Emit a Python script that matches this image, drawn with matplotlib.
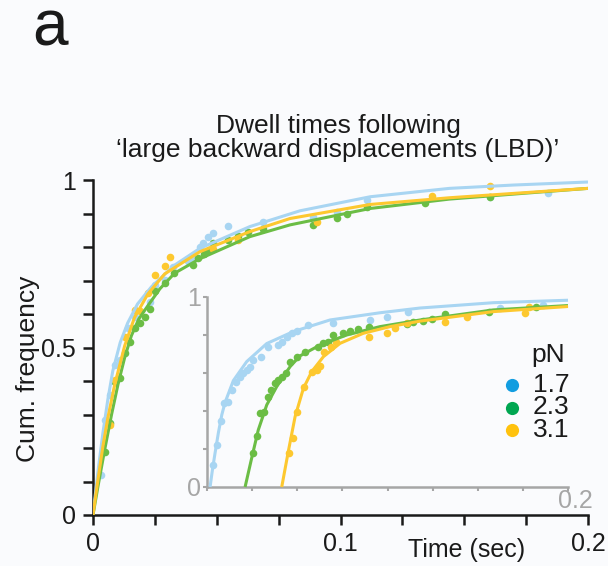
import matplotlib
matplotlib.use("Agg")
import matplotlib.pyplot as plt
from matplotlib.lines import Line2D

plt.rcParams["font.family"] = ["Liberation Sans", "DejaVu Sans"]

# --- data ---------------------------------------------------------------
FORCES = ["1.7", "2.3", "3.1"]

# main panel: fitted curves (time in s, cumulative frequency)
BLUE_FIT_X = [0, 0.002, 0.004, 0.006, 0.008, 0.011, 0.014, 0.018, 0.0236,
              0.033, 0.0432, 0.0634, 0.0836, 0.112, 0.144, 0.17, 0.2]
BLUE_FIT_Y = [0, 0.13, 0.245, 0.345, 0.43, 0.515, 0.573, 0.63, 0.681,
              0.746, 0.796, 0.861, 0.908, 0.950, 0.975, 0.985, 0.994]
GREEN_FIT_X = [0, 0.002, 0.0047, 0.0075, 0.0101, 0.0128, 0.0155, 0.0185,
               0.0222, 0.027, 0.033, 0.0432, 0.0634, 0.0796, 0.112, 0.144,
               0.17, 0.2]
GREEN_FIT_Y = [0, 0.085, 0.194, 0.30, 0.39, 0.47, 0.535, 0.585, 0.625,
               0.675, 0.722, 0.765, 0.831, 0.866, 0.915, 0.943, 0.958, 0.975]
YELLOW_FIT_X = [0, 0.002, 0.004, 0.006, 0.0088, 0.0128, 0.0168, 0.0222,
                0.029, 0.0432, 0.0634, 0.0796, 0.112, 0.144, 0.17, 0.2]
YELLOW_FIT_Y = [0, 0.105, 0.205, 0.29, 0.39, 0.505, 0.59, 0.66, 0.72,
                0.786, 0.846, 0.885, 0.927, 0.947, 0.96, 0.975]

# main panel: measured points
BLUE_PTS_X = [0.0031, 0.0047, 0.0067, 0.0088, 0.0108, 0.0141, 0.0168, 0.0229,
              0.0249, 0.0291, 0.0323, 0.0385, 0.0405, 0.0432, 0.0446, 0.0466,
              0.0486, 0.0547, 0.0688, 0.0888, 0.0984, 0.1108, 0.1604, 0.184]
BLUE_PTS_Y = [0.119, 0.284, 0.358, 0.448, 0.463, 0.557, 0.592, 0.637, 0.687,
              0.701, 0.741, 0.759, 0.769, 0.801, 0.813, 0.831, 0.843, 0.863,
              0.876, 0.891, 0.905, 0.940, 0.950, 0.962]
GREEN_PTS_X = [0.0047, 0.0067, 0.0088, 0.0108, 0.0128, 0.0148, 0.0168, 0.0189,
               0.0209, 0.0229, 0.0249, 0.029, 0.0327, 0.0405, 0.0425, 0.0448,
               0.047, 0.0486, 0.0547, 0.0587, 0.0628, 0.0688, 0.0888, 0.0984,
               0.1025, 0.1106, 0.1341, 0.1604]
GREEN_PTS_Y = [0.189, 0.274, 0.398, 0.408, 0.483, 0.517, 0.557, 0.572, 0.592,
               0.614, 0.670, 0.692, 0.723, 0.746, 0.766, 0.779, 0.791, 0.811,
               0.821, 0.833, 0.844, 0.855, 0.866, 0.886, 0.898, 0.920, 0.930,
               0.950]
YELLOW_PTS_X = [0.0067, 0.0088, 0.0128, 0.0168, 0.0189, 0.0222, 0.0249, 0.029,
                0.031, 0.0486, 0.0587, 0.0904, 0.1368, 0.1604]
YELLOW_PTS_Y = [0.269, 0.403, 0.530, 0.612, 0.610, 0.662, 0.716, 0.743,
                0.771, 0.793, 0.821, 0.876, 0.953, 0.983]

# inset: fitted curves
BLUE_IN_FIT_X = [0.0017, 0.003, 0.0044, 0.0063, 0.0082, 0.01, 0.0146, 0.022,
                 0.0331, 0.0478, 0.0681, 0.0958, 0.118, 0.1586, 0.2]
BLUE_IN_FIT_Y = [0, 0.09, 0.175, 0.285, 0.38, 0.445, 0.56, 0.66, 0.755,
                 0.818, 0.879, 0.917, 0.942, 0.970, 0.983]
GREEN_IN_FIT_X = [0.0211, 0.0247, 0.0284, 0.0331, 0.0386, 0.046, 0.0515,
                  0.0626, 0.0774, 0.0958, 0.118, 0.1586, 0.2]
GREEN_IN_FIT_Y = [0, 0.15, 0.30, 0.432, 0.528, 0.633, 0.690, 0.747, 0.800,
                  0.844, 0.879, 0.932, 0.955]
YELLOW_IN_FIT_X = [0.0414, 0.0451, 0.0488, 0.0534, 0.058, 0.0645, 0.0737,
                   0.0866, 0.1014, 0.118, 0.1586, 0.2]
YELLOW_IN_FIT_Y = [0, 0.19, 0.37, 0.519, 0.607, 0.686, 0.756, 0.809, 0.844,
                   0.873, 0.923, 0.950]

# inset: measured points
BLUE_IN_X = [0.0035, 0.0054, 0.0076, 0.0094, 0.0118, 0.014, 0.0161, 0.0183,
             0.0201, 0.022, 0.0238, 0.0257, 0.0297, 0.034, 0.0395, 0.0414,
             0.0445, 0.0469, 0.0497, 0.0561, 0.0699, 0.0903, 0.0996, 0.1116,
             0.1623, 0.1863]
BLUE_IN_Y = [0.116, 0.221, 0.349, 0.440, 0.449, 0.511, 0.554, 0.580, 0.598,
             0.616, 0.633, 0.668, 0.686, 0.735, 0.747, 0.765, 0.791, 0.809,
             0.823, 0.853, 0.861, 0.879, 0.896, 0.923, 0.940, 0.958]
GREEN_IN_X = [0.0253, 0.0275, 0.0294, 0.0316, 0.0336, 0.0355, 0.0377, 0.0395,
              0.0414, 0.0438, 0.046, 0.0497, 0.0543, 0.0617, 0.0645, 0.0672,
              0.0699, 0.0754, 0.0795, 0.0838, 0.0899, 0.1106, 0.1143, 0.1198,
              0.1245, 0.1319, 0.1564, 0.1823]
GREEN_IN_Y = [0.177, 0.270, 0.388, 0.396, 0.475, 0.511, 0.546, 0.563, 0.580,
              0.601, 0.660, 0.686, 0.712, 0.739, 0.756, 0.765, 0.800, 0.812,
              0.823, 0.830, 0.844, 0.858, 0.870, 0.874, 0.882, 0.910, 0.923,
              0.946]
YELLOW_IN_X = [0.0456, 0.0478, 0.0497, 0.0537, 0.058, 0.0607, 0.0626, 0.0648,
               0.0685, 0.0715, 0.0899, 0.0999, 0.1042, 0.1106, 0.1319, 0.1439,
               0.1762, 0.1785]
YELLOW_IN_Y = [0.177, 0.259, 0.393, 0.525, 0.607, 0.616, 0.637, 0.712, 0.735,
               0.762, 0.791, 0.812, 0.838, 0.861, 0.867, 0.893, 0.914, 0.946]

# --- styling -------------------------------------------------------------
BACKGROUND = "#fafbfd"
TEXT_COLOR = "#1a1a1a"
PLOT_COLORS = ["#a8d5f2", "#6bbd45", "#fdc82f"]
LEGEND_COLORS = ["#129de0", "#00a651", "#ffc20e"]
INSET_GRAY = "#a6a6a6"
LINE_WIDTH = 2.2
DOT_SIZE = 30
FONT_SIZE = 18

fits = [(BLUE_FIT_X, BLUE_FIT_Y), (GREEN_FIT_X, GREEN_FIT_Y),
        (YELLOW_FIT_X, YELLOW_FIT_Y)]
points = [(BLUE_PTS_X, BLUE_PTS_Y), (GREEN_PTS_X, GREEN_PTS_Y),
          (YELLOW_PTS_X, YELLOW_PTS_Y)]
inset_fits = [(BLUE_IN_FIT_X, BLUE_IN_FIT_Y), (GREEN_IN_FIT_X, GREEN_IN_FIT_Y),
              (YELLOW_IN_FIT_X, YELLOW_IN_FIT_Y)]
inset_points = [(BLUE_IN_X, BLUE_IN_Y), (GREEN_IN_X, GREEN_IN_Y),
                (YELLOW_IN_X, YELLOW_IN_Y)]

W, H = 608, 566
figure = plt.figure(figsize=(W / 100, H / 100), dpi=100)
figure.patch.set_facecolor(BACKGROUND)


def fig_box(left, top, right, bottom):
    """pixel box -> figure fraction [left, bottom, width, height]"""
    return [left / W, 1 - bottom / H, (right - left) / W, (bottom - top) / H]


# main panel
ax = figure.add_axes(fig_box(93, 180, 588, 515))
ax.set_facecolor("none")
for (fx, fy), (px, py), color in zip(fits, points, PLOT_COLORS):
    ax.scatter(px, py, s=DOT_SIZE, color=color, linewidths=0, zorder=2,
               clip_on=False)
    ax.plot(fx, fy, color=color, linewidth=LINE_WIDTH, zorder=3,
            solid_capstyle="butt")
ax.set_xlim(0, 0.2)
ax.set_ylim(0, 1)
ax.set_xticks([i * 0.025 for i in range(9)])
ax.set_xticklabels(["0", "", "", "", "0.1", "", "", "", "0.2"])
ax.set_yticks([i * 0.1 for i in range(11)])
ax.set_yticklabels(["0", "", "", "", "", "0.5", "", "", "", "", "1"])
for side in ("top", "right"):
    ax.spines[side].set_visible(False)
for side in ("left", "bottom"):
    ax.spines[side].set_linewidth(1.8)
    ax.spines[side].set_color(TEXT_COLOR)
ax.tick_params(direction="out", length=7.5, width=1.8, color=TEXT_COLOR,
               labelsize=FONT_SIZE, labelcolor=TEXT_COLOR, pad=5)

# inset with offset curves
ax_in = figure.add_axes(fig_box(207, 297, 568, 487))
ax_in.patch.set_visible(False)
for (fx, fy), (px, py), color in zip(inset_fits, inset_points, PLOT_COLORS):
    ax_in.scatter(px, py, s=DOT_SIZE, color=color, linewidths=0, zorder=2,
                  clip_on=False)
    ax_in.plot(fx, fy, color=color, linewidth=LINE_WIDTH, zorder=3,
               solid_capstyle="butt", clip_on=False)
ax_in.set_xlim(0, 0.2)
ax_in.set_ylim(0, 1)
ax_in.set_xticks([i * 0.025 for i in range(9)])
ax_in.set_xticklabels([])
ax_in.set_yticks([i * 0.2 for i in range(6)])
ax_in.set_yticklabels(["0", "", "", "", "", "1"])
for side in ("top", "right"):
    ax_in.spines[side].set_visible(False)
for side in ("left", "bottom"):
    ax_in.spines[side].set_linewidth(1.8)
    ax_in.spines[side].set_color(INSET_GRAY)
ax_in.tick_params(direction="out", length=3, width=1.5, color=INSET_GRAY,
                  labelsize=FONT_SIZE, labelcolor=INSET_GRAY, pad=1)
ax_in.annotate("0.2", xy=(1, 0), xycoords="axes fraction",
               xytext=(5, -10), textcoords="offset points", ha="center",
               va="center", fontsize=FONT_SIZE, color=INSET_GRAY)

# legend: title and entries placed by hand to keep the tight spacing
figure.text(565 / W, 1 - 355 / H, "pN", ha="right", va="center",
            fontsize=19, color=TEXT_COLOR)
for row, (label, color) in enumerate(zip(FORCES, LEGEND_COLORS)):
    y_px = 385 + row * 22.5
    figure.add_artist(Line2D([512 / W], [1 - y_px / H], marker="o",
                             linestyle="", markersize=9.5, markeredgewidth=0,
                             markerfacecolor=color,
                             transform=figure.transFigure))
    figure.text(533 / W, 1 - y_px / H, label, ha="left", va="center",
                fontsize=19, color=TEXT_COLOR)

# labels and titles
figure.text(467 / W, 1 - 550 / H, "Time (sec)", ha="center", va="center",
            fontsize=FONT_SIZE, color=TEXT_COLOR)
figure.text(28 / W, 1 - 369 / H, "Cum. frequency", ha="center", va="center",
            rotation=90, fontsize=19, color=TEXT_COLOR)
figure.text(338 / W, 1 - 138 / H,
            "Dwell times following\n\u2018large backward displacements (LBD)\u2019",
            ha="center", va="center", fontsize=19, linespacing=1.05,
            color=TEXT_COLOR)
figure.text(50 / W, 1 - 28 / H, "a", ha="center", va="center", fontsize=46,
            color=TEXT_COLOR)

figure.savefig("out.png", dpi=100, facecolor=BACKGROUND)
plt.close(figure)
